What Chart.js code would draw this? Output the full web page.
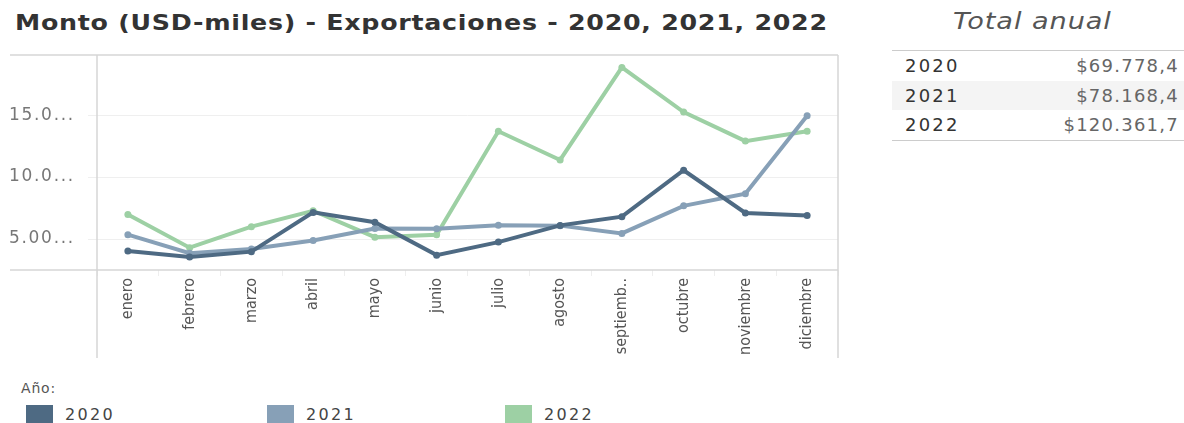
<!DOCTYPE html>
<html>
<head>
<meta charset="utf-8">
<script src="https://cdn.jsdelivr.net/npm/chart.js@4.4.0/dist/chart.umd.min.js"></script>
<style>
  body { margin: 0; width: 1184px; height: 423px; overflow: hidden; background: #fff; font-family: "DejaVu Sans", sans-serif; position: relative; }
  #title { position: absolute; left: 15px; top: 11px; font-size: 21px; font-weight: bold; color: #333; white-space: nowrap; letter-spacing: 0.6px; transform: scaleX(1.205); transform-origin: 0 0; }
  #chartbox { position: absolute; left: 0; top: 0; width: 845px; height: 365px; }
  #totals { position: absolute; left: 892px; top: 0; width: 292px; }
  #totals .head { position: absolute; left: 61px; top: 8px; font-style: italic; font-size: 23px; color: #555; letter-spacing: 0.8px; white-space: nowrap; transform: scaleX(1.18); transform-origin: 0 0; }
  #totals table { position: absolute; top: 50px; width: 100%; border-collapse: collapse; border-top: 1px solid #ccc; border-bottom: 1px solid #ccc; font-size: 18px; }
  #totals td { height: 29.5px; padding: 0; }
  #totals td.y { padding-left: 13px; color: #333; letter-spacing: 2.2px; }
  #totals td.v { text-align: right; padding-right: 5px; color: #666; letter-spacing: 1.25px; }
  #totals tr.alt td { background: #f4f4f4; }
  #legend { position: absolute; left: 0; top: 0; }
  #legend .lt { position: absolute; left: 21px; top: 380px; font-size: 14px; color: #555; letter-spacing: 0.8px; white-space: nowrap; }
  .item { position: absolute; top: 405px; white-space: nowrap; font-size: 16px; color: #444; letter-spacing: 2.3px; }
  .item span { display: inline-block; width: 27px; height: 20px; vertical-align: -5px; margin-right: 12px; }
</style>
</head>
<body>
<div id="title">Monto (USD-miles) - Exportaciones - 2020, 2021, 2022</div>
<div id="chartbox"><canvas id="chart" width="845" height="365"></canvas></div>
<div id="totals">
  <div class="head">Total anual</div>
  <table id="tt"></table>
</div>
<div id="legend"><div class="lt">Año:</div></div>
<script>
// Datos (USD)
var meses = ["enero", "febrero", "marzo", "abril", "mayo", "junio", "julio", "agosto", "septiembre", "octubre", "noviembre", "diciembre"]
var anios = ["2020", "2021", "2022"]
var colores = ["#4e6a83", "#87a0b7", "#9dd0a4"]
var serie2020 = [4030, 3550, 3980, 7150, 6350, 3700, 4750, 6100, 6800, 10550, 7100, 6900]
var serie2021 = [5350, 3850, 4200, 4880, 5850, 5820, 6120, 6080, 5450, 7680, 8650, 14950]
var serie2022 = [6980, 4300, 6000, 7280, 5150, 5350, 13700, 11380, 18850, 15250, 12900, 13700]
var totales = ["$69.778,4", "$78.168,4", "$120.361,7"]
var yTicks = [5000, 10000, 15000]
var yTickLabels = ["5.00...", "10.0...", "15.0..."]

// Tabla de totales
var tt = document.getElementById("tt")
anios.forEach(function(a, i) {
    var tr = document.createElement("tr")
    if (i == 1) tr.className = "alt"
    tr.innerHTML = '<td class="y">' + a + '</td><td class="v">' + totales[i] + '</td>'
    tt.appendChild(tr)
})

// Leyenda
var lg = document.getElementById("legend")
var lx = [26, 267, 505]
anios.forEach(function(a, i) {
    var d = document.createElement("div")
    d.className = "item"
    d.style.left = lx[i] + "px"
    d.innerHTML = '<span style="background:' + colores[i] + '"></span>' + a
    lg.appendChild(d)
})

// Marco del grafico
var frame = {
    id: "frame",
    beforeDatasetsDraw: function(chart) {
        var ctx = chart.ctx, a = chart.chartArea
        ctx.save()
        ctx.strokeStyle = "#d6d6d6"
        ctx.lineWidth = 1.5
        ctx.beginPath()
        ctx.moveTo(10, a.top); ctx.lineTo(a.right, a.top)
        ctx.moveTo(10, a.bottom); ctx.lineTo(a.right, a.bottom)
        ctx.moveTo(a.left, a.top); ctx.lineTo(a.left, 358)
        ctx.moveTo(a.right, a.top); ctx.lineTo(a.right, 358)
        ctx.stroke()
        ctx.restore()
    }
}

var series = [serie2020, serie2021, serie2022]
var datasets = anios.map(function(a, i) {
    return {
        label: a,
        data: series[i],
        borderColor: colores[i],
        backgroundColor: colores[i],
        borderWidth: 4,
        pointRadius: 3.5,
        pointBorderWidth: 0,
        tension: 0
    }
})

new Chart(document.getElementById("chart"), {
    type: "line",
    data: { labels: meses, datasets: datasets },
    plugins: [frame],
    options: {
        responsive: false,
        animation: false,
        maintainAspectRatio: false,
        layout: { padding: { top: 55, right: 7, bottom: 7, left: 9 } },
        plugins: { legend: { display: false }, tooltip: { enabled: false } },
        scales: {
            x: {
                offset: true,
                grid: { offset: true, drawOnChartArea: false, drawTicks: true, tickLength: 6, color: "#eeeeee" },
                border: { display: false },
                ticks: {
                    minRotation: 90, maxRotation: 90, padding: 2,
                    color: "#555",
                    font: { family: "'Liberation Sans Narrow', 'DejaVu Sans Condensed', sans-serif", size: 16 },
                    callback: function(v) {
                        var l = this.getLabelForValue(v)
                        return l.length > 9 ? l.slice(0, 8) + ".." : l
                    }
                },
                afterFit: function(s) { s.height = 88 }
            },
            y: {
                min: 2500, max: 19850,
                afterBuildTicks: function(s) { s.ticks = yTicks.map(function(v) { return { value: v } }) },
                grid: { color: "#efefef", lineWidth: 1, tickLength: 9 },
                border: { display: false },
                ticks: {
                    color: "#777", padding: 12, crossAlign: "far",
                    font: { family: "'DejaVu Sans', sans-serif", size: 17 },
                    callback: function(v) { return yTickLabels[yTicks.indexOf(v)].split("").join("\u200A") }
                },
                afterFit: function(s) { s.width = 88 }
            }
        }
    }
})
</script>
</body>
</html>
